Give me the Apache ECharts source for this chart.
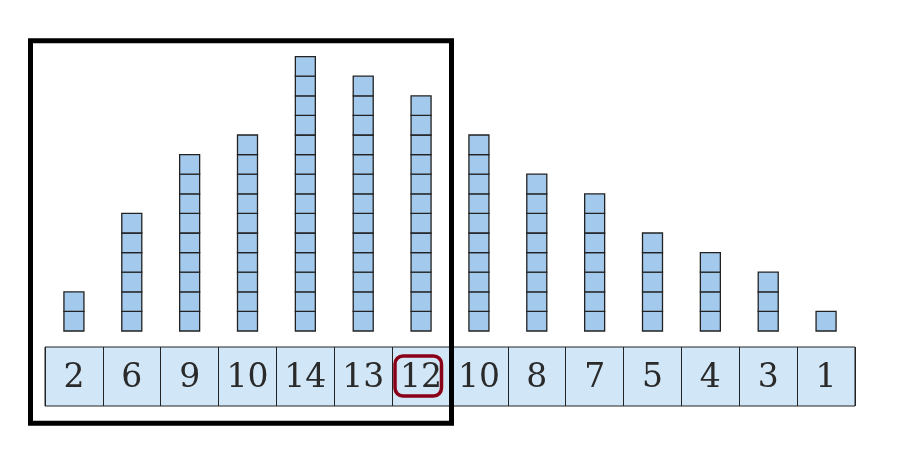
<!DOCTYPE html>
<html>
<head>
<meta charset="utf-8">
<script src="https://cdn.jsdelivr.net/npm/echarts@6/dist/echarts.min.js"></script>
<style>html,body{margin:0;padding:0;background:#fff}#c{width:908px;height:460px}</style>
</head>
<body>
<div id="c"></div>
<script>
// counts of unit squares in each stack (left to right)
const counts = [2, 6, 9, 10, 14, 13, 12, 10, 8, 7, 5, 4, 3, 1];
// labels written in the row of cells under the stacks
const cellLabels = ['2', '6', '9', '10', '14', '13', '12', '10', '8', '7', '5', '4', '3', '1'];
const categories = counts.map((v, i) => 'c' + i);

const chart = echarts.init(document.getElementById('c'), null, {renderer: 'canvas'});
const unit = 19.6;
const yMax = 15;
const gridBottomY = 331;
const squareW = 20;

chart.setOption({
  animation: false,
  backgroundColor: '#ffffff',
  grid: [
    {left: 45, right: 53, top: gridBottomY - yMax * unit, height: yMax * unit},
    {left: 45, right: 53, top: 347, height: 59, show: true,
     backgroundColor: '#d1e6f6', borderColor: '#222', borderWidth: 1}
  ],
  xAxis: [
    {type: 'category', gridIndex: 0, data: categories, show: false},
    {type: 'category', gridIndex: 1, data: cellLabels,
     axisLine: {show: false}, axisTick: {show: false},
     splitLine: {show: true, lineStyle: {color: '#222', width: 1}},
     axisLabel: {margin: -28, verticalAlign: 'middle', fontFamily: 'DejaVu Serif',
                 fontSize: 33, color: '#2a2a2a', interval: 0}}
  ],
  yAxis: [
    {type: 'value', gridIndex: 0, min: 0, max: yMax, show: false},
    {type: 'value', gridIndex: 1, min: 0, max: 1, show: false}
  ],
  series: [{
    type: 'custom',
    xAxisIndex: 0, yAxisIndex: 0,
    data: counts.map((v, i) => [i, v]),
    encode: {x: 0, y: 1},
    renderItem: function (params, api) {
      const idx = api.value(0);
      const n = api.value(1);
      const children = [];
      for (let k = 0; k < n; k++) {
        const p0 = api.coord([idx, k]);
        const p1 = api.coord([idx, k + 1]);
        children.push({
          type: 'rect',
          shape: {x: p0[0] - squareW / 2, y: p1[1], width: squareW, height: p0[1] - p1[1]},
          style: {fill: '#a3c9ec', stroke: '#222', lineWidth: 1.3}
        });
      }
      return {type: 'group', children: children};
    }
  }],
  graphic: [
    {type: 'rect', shape: {x: 30.5, y: 40.7, width: 421, height: 382.6},
     style: {fill: null, stroke: '#000', lineWidth: 5}, z: 100},
    {type: 'rect', shape: {x: 395, y: 356, width: 46.5, height: 40, r: 8},
     style: {fill: null, stroke: '#8a0019', lineWidth: 3.5}, z: 100}
  ]
});
</script>
</body>
</html>
